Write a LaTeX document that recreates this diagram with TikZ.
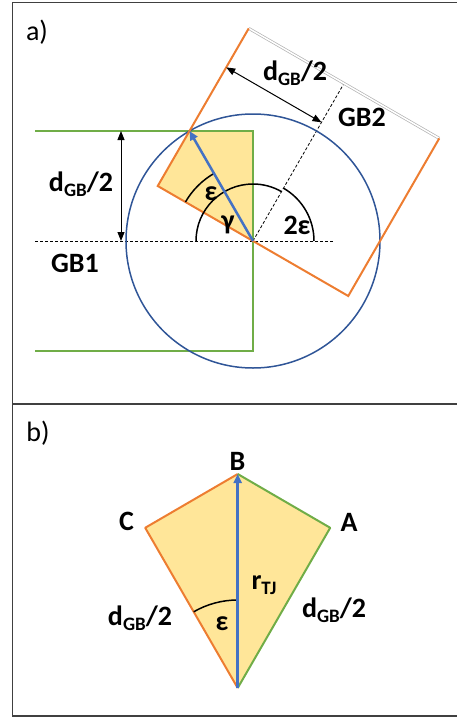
\documentclass[tikz,border=0pt]{standalone}
\usepackage{fontspec}
\setmainfont{Carlito}
\usetikzlibrary{arrows.meta,calc}
\definecolor{grn}{HTML}{70AD47}
\definecolor{org}{HTML}{ED7D31}
\definecolor{blu}{HTML}{4472C4}
\definecolor{cir}{HTML}{2F5597}
\definecolor{yel}{HTML}{FFE699}
\definecolor{frm}{HTML}{404040}
\newcommand{\subtxt}[1]{\raisebox{-5pt}{\fontsize{19}{20}\selectfont #1}}
\newcommand{\dgbh}{d\subtxt{GB}/2}
\begin{document}
\begin{tikzpicture}[x=1pt,y=1pt,
  lbl/.style={font=\fontsize{28}{30}\selectfont\bfseries, inner sep=0pt},
  plbl/.style={font=\fontsize{28}{30}\selectfont, inner sep=0pt},
  frameline/.style={frm, line width=1.5pt},
  openedge/.style={draw=gray!60, double=white, double distance=1.5pt, line width=0.7pt},
  grainG/.style={grn, line width=2pt},
  grainO/.style={org, line width=2pt},
  vec/.style={blu, line width=2.5pt, -{Triangle[length=9pt,width=8pt]}},
  anglearc/.style={black, line width=1.5pt},
  guide/.style={black, line width=0.8pt, dash pattern=on 3pt off 2pt},
  dimarrow/.style={black, line width=1pt, {Triangle[length=9pt,width=7pt]}-{Triangle[length=9pt,width=7pt]}}]
\useasboundingbox (0,0) rectangle (457,-717);
% frame
\draw[frameline] (457,-2.5) -- (12.5,-2.5) -- (12.5,-716) -- (457,-716);
\draw[frameline] (12.5,-404) -- (457,-404);
% ---------- panel a ----------
\node[plbl] (la) at (37,-32) {a)};
\coordinate (O) at (253,-241);
\coordinate (G1) at (35,-131);
\coordinate (G2) at (253,-131);
\coordinate (G3) at (253,-351);
\coordinate (G4) at (35,-351);
\coordinate (C1) at ($(O)+(150:110)$);
\coordinate (C2) at ($(O)+(-30:110)$);
\coordinate (T1) at ($(C1)+(60:182)$);
\coordinate (T2) at ($(C2)+(60:182)$);
\coordinate (M) at ($(O)+(60:182)$);
\coordinate (P) at ($(O)+(120:127)$);
\coordinate (H1) at (35,-241);
\coordinate (H2) at (333,-241);
\coordinate (V1) at (121,-131);
\coordinate (V2) at (121,-241);
\coordinate (D1) at ($(C1)+(60:137)$);
\coordinate (D2) at ($(O)+(60:137)$);
\fill[yel] (C1) -- (P) -- (G2) -- (O) -- cycle;
\draw[openedge] (G1) -- (G4);
\draw[grainG] (G4) -- (G3) -- (G2) -- (G1);
\draw[guide] (H1) -- (H2);
\draw[guide] (O) -- (M);
\draw[cir, line width=1.5pt] (O) circle[radius=127];
\draw[openedge] (T1) -- (T2);
\draw[grainO] (T1) -- (C1) -- (C2) -- (T2);
\draw[anglearc] ($(O)+(180:57)$) arc[start angle=180, end angle=60, radius=57];
\draw[anglearc] ($(O)+(0:61)$) arc[start angle=0, end angle=60, radius=61];
\draw[anglearc] ($(O)+(150:78)$) arc[start angle=150, end angle=120, radius=78];
\draw[vec] (O) -- (P);
\draw[dimarrow] (V1) -- (V2);
\draw[dimarrow] (D1) -- (D2);
\node[lbl] (dl) at (81,-184) {\dgbh};
\node[lbl] (gb1) at (75,-263) {GB1};
\node[lbl] (dt) at (295,-73) {\dgbh};
\node[lbl] (gb2) at (362,-117) {GB2};
\node[lbl] (eps) at (211,-194) {ε};
\node[lbl] (gam) at (228,-225) {γ};
\node[lbl] (eps2) at (297,-225) {2ε};
% ---------- panel b ----------
\node[plbl] (lb) at (38,-433) {b)};
\coordinate (V) at (237.7,-688);
\coordinate (B) at ($(V)+(90:214)$);
\coordinate (C) at ($(V)+(120:185)$);
\coordinate (A) at ($(V)+(60:185)$);
\fill[yel] (V) -- (C) -- (B) -- (A) -- cycle;
\draw[grainO, line join=round] (V) -- (C) -- (B);
\draw[grainG, line join=round] (B) -- (A) -- (V);
\draw[anglearc] ($(V)+(120:88)$) arc[start angle=120, end angle=90, radius=88];
\draw[vec] (V) -- (B);
\node[lbl] (nB) at (237.5,-461) {B};
\node[lbl] (nC) at (126.5,-521) {C};
\node[lbl] (nA) at (349,-522) {A};
\node[lbl] (r) at (264,-585) {r\subtxt{TJ}};
\node[lbl] (dbl) at (140,-618) {\dgbh};
\node[lbl] (dbr) at (334,-610) {\dgbh};
\node[lbl] (epsb) at (222,-624) {ε};
\end{tikzpicture}
\end{document}
